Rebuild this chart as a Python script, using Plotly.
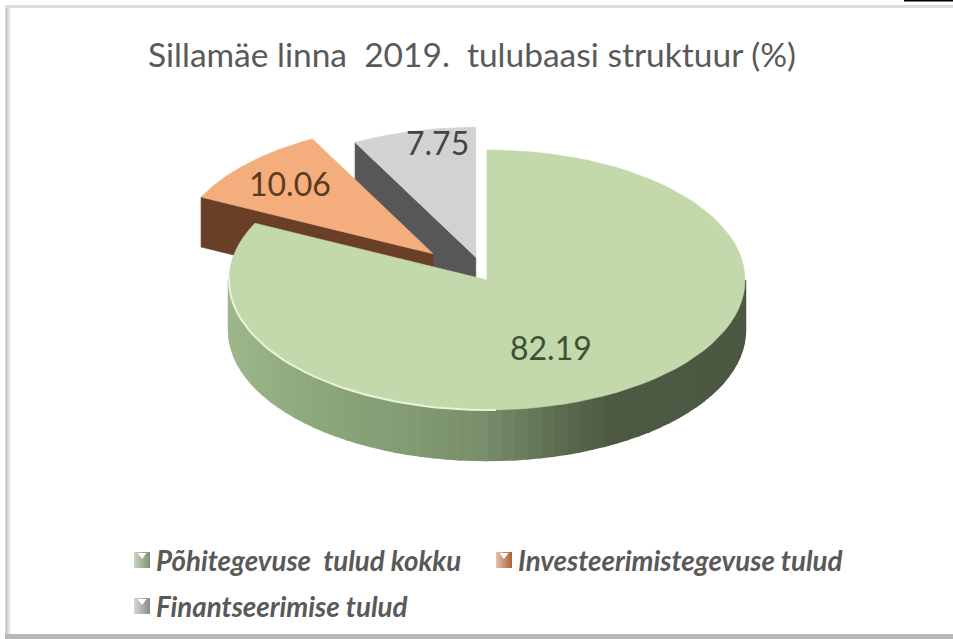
import numpy as np
import plotly.graph_objects as go

# ---- data ----
title = "Sillamäe linna\u00a0 2019.\u00a0 tulubaasi struktuur (%)"
categories = ["Põhitegevuse\u00a0 tulud kokku", "Investeerimistegevuse tulud", "Finantseerimise tulud"]
values = [82.19, 10.06, 7.75]

# ---- styling / geometry ----
W, H = 953, 639
CX, CY, RX, RY, DEPTH = 487, 280, 258, 130, 50
pulls = [0.0, 0.29, 0.18]
top_colors = ["#c3d9ab", "#f4ad7c", "#d2d2d2"]
wall_colors = [None, "#6a3f27", "#575757"]
label_colors = ["#3c5238", "#5a3a20", "#454545"]
label_fracs = [(0.465, 0.617), (0.77, 0.78), (0.62, 0.91)]
FONT = "Lato, Carlito, sans-serif"

fig = go.Figure()


def poly(xs, ys, color, name=None, hover=False, lw=0.6):
    fig.add_trace(go.Scatter(
        x=list(xs), y=list(ys), mode="lines", fill="toself", fillcolor=color,
        line=dict(color=color, width=lw), showlegend=False,
        name=name, hoverinfo="name" if hover else "skip"))


def pt(theta_deg, cx, cy):
    t = np.radians(theta_deg)
    return cx + RX * np.sin(t), cy - RY * np.cos(t)


# angular extents from the values (clockwise from 12 o'clock)
total = sum(values)
edges = np.concatenate([[0], np.cumsum(values) / total * 360])
mids = (edges[:-1] + edges[1:]) / 2
centers = []
for m, p in zip(mids, pulls):
    t = np.radians(m)
    centers.append((CX + p * RX * np.sin(t), CY - p * RY * np.cos(t)))


def wedge(i):
    a = np.linspace(edges[i], edges[i + 1], 90)
    cx, cy = centers[i]
    xs, ys = pt(a, cx, cy)
    return np.r_[cx, xs, cx], np.r_[cy, ys, cy]


def radial_wall(i):
    cx, cy = centers[i]
    ex, ey = pt(edges[i], cx, cy)
    return [cx, ex, ex, cx, cx], [cy, ey, ey + DEPTH, cy + DEPTH, cy]


# back slices, far one first
for i in (2, 1):
    poly(*radial_wall(i), wall_colors[i])
    xs, ys = wedge(i)
    poly(xs, ys, top_colors[i], name=categories[i], hover=True)

# green outer wall: vertical bands shaded left to right
stops_x = [228, 300, 400, 480, 560, 610, 745]
stops_c = [(158, 184, 140), (143, 170, 125), (131, 157, 116), (122, 143, 108), (92, 108, 80), (78, 90, 68), (76, 88, 66)]
a_wall = np.linspace(90, 270, 61)
for a0, a1 in zip(a_wall[:-1], a_wall[1:]):
    x0, y0 = pt(a0, CX, CY)
    x1, y1 = pt(a1, CX, CY)
    xm = (x0 + x1) / 2
    c = [int(np.interp(xm, stops_x, [s[k] for s in stops_c])) for k in range(3)]
    col = f"rgb({c[0]},{c[1]},{c[2]})"
    poly([x0, x1, x1, x0, x0], [y0, y1, y1 + DEPTH, y0 + DEPTH, y0], col, lw=2.5)

# green top
xs, ys = wedge(0)
poly(xs, ys, top_colors[0], name=categories[0], hover=True)

# bevel highlight on the rim
a_rim = np.linspace(178, 272, 50)
rx_, ry_ = pt(a_rim, CX, CY)
fig.add_trace(go.Scatter(x=rx_, y=ry_, mode="lines", line=dict(color="#e6f4d8", width=2),
                         showlegend=False, hoverinfo="skip"))

# value labels
for i, v in enumerate(values):
    t = np.radians(mids[i])
    fx, fy = label_fracs[i]
    fig.add_annotation(x=centers[i][0] + fx * RX * np.sin(t), y=centers[i][1] - fy * RY * np.cos(t),
                       text=f"{v:.2f}", showarrow=False,
                       font=dict(family=FONT, size=32, color=label_colors[i]))

# legend (glyph + label)
legend_pos = [(142, 560), (504, 560), (142, 606)]
legend_grad = ["#7d9270", "#b0603a", "#8a8a8a"]
legend_base = ["#c8d5bb", "#e2c3aa", "#d6d6d6"]
for i, name in enumerate(categories):
    x, y = legend_pos[i]
    fig.add_trace(go.Scatter(x=[x], y=[y], mode="markers", showlegend=False, hoverinfo="skip",
                             marker=dict(symbol="square", size=16, color=legend_base[i],
                                         gradient=dict(type="horizontal", color=legend_grad[i]),
                                         line=dict(width=0))))
    fig.add_trace(go.Scatter(x=[x], y=[y - 5], mode="markers", showlegend=False, hoverinfo="skip",
                             marker=dict(symbol="triangle-down", size=8, color="white", line=dict(width=0))))
    fig.add_annotation(x=x + 12, y=y, text=f"<b><i>{name}</i></b>", showarrow=False, xanchor="left",
                       font=dict(family=FONT, size=27.7, color="#595959"))

# chart frame
frame = []
for k, col in enumerate(["#d8d8d8", "#c8c8c8", "#d0d0d0", "#dedede", "#ececec", "#f6f6f6"]):
    frame.append(dict(type="rect", xref="x", yref="y", x0=5 + k, x1=6 + k, y0=6, y1=H,
                      fillcolor=col, line=dict(width=0), layer="below"))
frame += [
    dict(type="rect", xref="x", yref="y", x0=5, x1=W, y0=5, y1=8, fillcolor="#dcdcdc", line=dict(width=0), layer="below"),
    dict(type="rect", xref="x", yref="y", x0=5, x1=W, y0=634, y1=H, fillcolor="#b8b8b8", line=dict(width=0), layer="below"),
    dict(type="rect", xref="x", yref="y", x0=904, x1=W, y0=0, y1=1.5, fillcolor="#000000", line=dict(width=0), layer="below"),
]

fig.update_layout(
    width=W, height=H, margin=dict(l=0, r=0, t=0, b=0),
    paper_bgcolor="white", plot_bgcolor="white", showlegend=False,
    title=dict(text=title, x=472 / W, xanchor="center", y=1 - 55 / H, yanchor="middle",
               font=dict(family=FONT, size=33.5, color="#595959")),
    xaxis=dict(range=[0, W], visible=False, fixedrange=True),
    yaxis=dict(range=[H, 0], visible=False, fixedrange=True),
    shapes=frame,
)

fig.write_html("out.html", config=dict(displayModeBar=False),
               post_script="document.body.style.margin='0';document.body.style.overflow='hidden';")
